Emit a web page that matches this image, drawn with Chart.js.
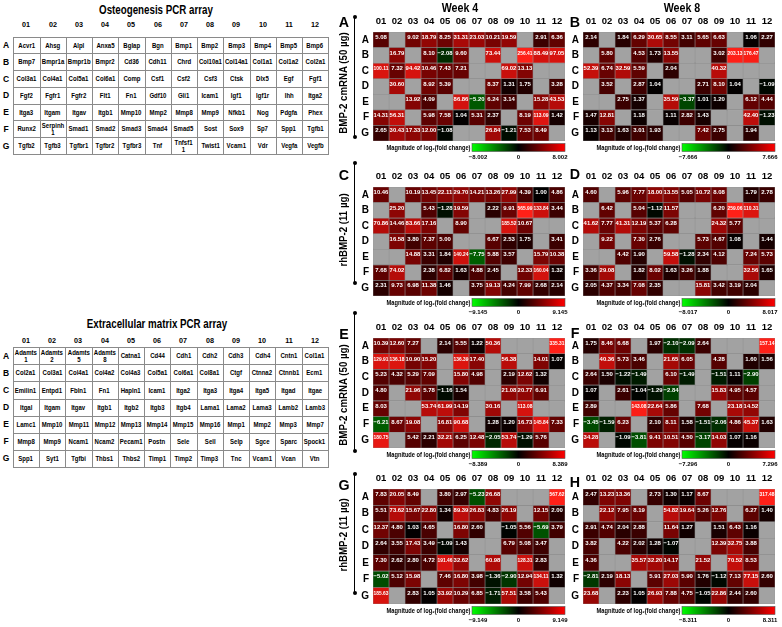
<!DOCTYPE html>
<html>
<head>
<meta charset="utf-8">
<script src="https://cdn.jsdelivr.net/npm/chart.js@4.4.0/dist/chart.umd.min.js"></script>
<style>
body{margin:0;background:#fff;}
#fig{position:relative;width:782px;height:627px;overflow:hidden;background:#fff;color:#000;
  font-family:"Liberation Sans",Arial,sans-serif;}
#fig div,#fig canvas{position:absolute;}
.c{white-space:nowrap;font-weight:bold;line-height:1;}
.tbl{border-left:1px solid #8a8a8a;border-top:1px solid #8a8a8a;box-sizing:border-box;}
.cell{box-sizing:border-box;border-right:1px solid #8a8a8a;border-bottom:1px solid #8a8a8a;
  display:flex;align-items:center;justify-content:center;text-align:center;}
.cell span{display:inline-block;font-size:7px;font-weight:bold;line-height:7px;transform:scaleX(.86);white-space:nowrap;}
</style>
</head>
<body>
<div id="fig"></div>
<script>
const cols = ['01','02','03','04','05','06','07','08','09','10','11','12'];
const rows = ['A','B','C','D','E','F','G'];
const weeks = ['Week 4', 'Week 8'];
const treatments = ['BMP-2 cmRNA (50 \u00b5g)', 'rhBMP-2 (11 \u00b5g)'];

const osteoGenes = [
  ['Acvr1','Ahsg','Alpl','Anxa5','Bglap','Bgn','Bmp1','Bmp2','Bmp3','Bmp4','Bmp5','Bmp6'],
  ['Bmp7','Bmpr1a','Bmpr1b','Bmpr2','Cd36','Cdh11','Chrd','Col10a1','Col14a1','Col1a1','Col1a2','Col2a1'],
  ['Col3a1','Col4a1','Col5a1','Col6a1','Comp','Csf1','Csf2','Csf3','Ctsk','Dlx5','Egf','Fgf1'],
  ['Fgf2','Fgfr1','Fgfr2','Flt1','Fn1','Gdf10','Gli1','Icam1','Igf1','Igf1r','Ihh','Itga2'],
  ['Itga3','Itgam','Itgav','Itgb1','Mmp10','Mmp2','Mmp8','Mmp9','Nfkb1','Nog','Pdgfa','Phex'],
  ['Runx2','Serpinh\n1','Smad1','Smad2','Smad3','Smad4','Smad5','Sost','Sox9','Sp7','Spp1','Tgfb1'],
  ['Tgfb2','Tgfb3','Tgfbr1','Tgfbr2','Tgfbr3','Tnf','Tnfsf1\n1','Twist1','Vcam1','Vdr','Vegfa','Vegfb']
];
const ecmGenes = [
  ['Adamts\n1','Adamts\n2','Adamts\n5','Adamts\n8','Catna1','Cd44','Cdh1','Cdh2','Cdh3','Cdh4','Cntn1','Col1a1'],
  ['Col2a1','Col3a1','Col4a1','Col4a2','Col4a3','Col5a1','Col6a1','Col8a1','Ctgf','Ctnna2','Ctnnb1','Ecm1'],
  ['Emilin1','Entpd1','Fbln1','Fn1','Hapln1','Icam1','Itga2','Itga3','Itga4','Itga5','Itgad','Itgae'],
  ['Itgal','Itgam','Itgav','Itgb1','Itgb2','Itgb3','Itgb4','Lama1','Lama2','Lama3','Lamb2','Lamb3'],
  ['Lamc1','Mmp10','Mmp11','Mmp12','Mmp13','Mmp14','Mmp15','Mmp16','Mmp1','Mmp2','Mmp3','Mmp7'],
  ['Mmp8','Mmp9','Ncam1','Ncam2','Pecam1','Postn','Sele','Sell','Selp','Sgce','Sparc','Spock1'],
  ['Spp1','Syt1','Tgfbi','Thbs1','Thbs2','Timp1','Timp2','Timp3','Tnc','Vcam1','Vcan','Vtn']
];

// fold changes, null = not measured (grey)
const w4CmOsteo = [
  [5.08,null,9.02,18.79,8.25,31.31,23.03,10.21,19.59,null,2.91,6.36],
  [null,16.79,null,8.10,-2.08,9.60,null,73.44,null,256.41,88.49,97.05],
  [100.11,7.32,94.42,10.46,7.43,7.21,null,null,69.02,13.13,null,null],
  [null,30.60,null,8.92,5.39,null,null,8.37,1.31,1.75,null,3.28],
  [null,null,13.92,4.09,null,86.86,-5.20,6.24,3.14,null,15.28,43.53],
  [14.31,56.31,null,5.98,7.58,1.04,5.31,2.37,null,8.19,113.09,1.42],
  [2.65,30.43,17.33,12.00,-1.08,null,null,26.84,-1.21,7.53,8.49,null]
];
const w8CmOsteo = [
  [2.14,null,1.84,6.29,30.65,8.55,3.11,5.65,6.63,null,1.06,2.27],
  [null,5.80,null,4.53,1.73,13.55,null,null,3.02,203.13,176.47,null],
  [52.39,6.74,32.59,5.59,null,2.04,null,null,40.32,null,null,null],
  [null,3.52,null,2.87,1.04,null,null,2.71,8.10,1.04,null,-1.09],
  [null,null,2.75,1.37,null,35.59,-3.37,1.01,1.20,null,6.12,4.44],
  [1.47,12.81,null,1.18,null,1.11,2.82,1.43,null,null,42.40,-1.23],
  [1.13,3.13,1.63,3.01,1.93,null,null,7.42,2.75,null,1.94,null]
];
const w4RhOsteo = [
  [10.46,null,10.19,13.45,22.11,29.70,14.21,13.26,27.99,4.39,1.00,4.86],
  [null,25.20,null,5.43,-1.28,19.59,null,2.22,9.91,565.99,133.84,3.44],
  [70.86,14.46,83.66,17.16,null,8.90,null,null,185.52,10.67,null,null],
  [null,16.58,3.80,7.37,5.00,null,null,6.67,2.53,1.75,null,3.41],
  [null,null,14.88,3.31,1.84,140.24,-7.75,5.88,3.57,null,15.79,10.38],
  [7.68,74.02,null,2.38,6.82,1.63,4.88,2.45,null,12.33,160.04,1.32],
  [2.31,9.73,6.98,11.38,1.46,null,3.75,19.13,4.24,7.99,2.68,2.14]
];
const w8RhOsteo = [
  [4.60,null,5.96,7.77,18.00,13.55,5.05,10.72,8.08,null,1.79,2.78],
  [null,6.42,null,5.04,-1.12,11.57,null,null,6.20,259.06,110.31,null],
  [41.62,7.77,41.31,12.19,5.37,6.28,null,null,24.32,5.77,null,null],
  [null,9.22,null,7.30,2.76,null,null,5.73,4.67,1.08,null,1.44],
  [null,null,4.42,1.90,null,59.58,-1.28,2.34,4.12,null,7.24,5.73],
  [3.36,29.08,null,1.82,8.02,1.63,3.26,1.88,null,null,32.56,1.65],
  [2.05,4.37,3.34,7.08,2.35,null,null,15.81,3.42,3.19,2.04,null]
];
const w4CmEcm = [
  [10.39,12.60,7.27,null,2.14,5.55,1.22,50.36,null,null,null,335.31],
  [129.91,136.18,10.90,15.20,null,136.39,17.40,null,56.38,null,14.01,1.07],
  [5.23,4.32,5.29,7.09,null,15.80,4.98,null,2.19,12.62,1.32,null],
  [4.80,null,21.96,5.78,-1.16,1.54,null,null,21.08,20.77,6.91,null],
  [8.03,null,null,53.74,61.99,14.19,null,30.16,null,113.08,null,null],
  [-6.21,8.67,19.08,null,16.81,90.68,null,1.28,1.20,16.73,145.84,7.33],
  [180.75,null,5.42,2.21,32.21,6.25,12.48,-2.05,53.74,-1.29,5.76,null]
];
const w8CmEcm = [
  [1.75,8.46,6.68,null,1.97,-2.10,-2.09,2.64,null,null,null,157.14],
  [null,40.36,5.73,3.46,null,21.65,6.05,null,4.28,null,1.60,1.56],
  [2.64,1.50,-1.22,-1.49,null,6.10,-1.49,null,-1.51,1.11,-2.90,null],
  [1.07,null,2.61,-1.04,-1.29,-2.84,null,null,15.83,4.95,4.57,null],
  [2.89,null,null,143.08,22.64,5.86,null,7.68,null,23.18,14.52,null],
  [-3.45,-1.59,6.23,null,2.10,8.11,1.58,-1.51,-2.06,4.86,45.37,1.63],
  [34.28,null,-1.09,-3.81,9.41,10.51,4.50,-3.17,14.03,1.07,1.16,null]
];
const w4RhEcm = [
  [7.83,20.05,8.49,null,3.80,2.97,-5.23,26.68,null,null,null,567.62],
  [5.51,73.62,15.67,22.80,1.34,89.39,26.83,4.83,26.19,null,12.15,2.00],
  [12.37,4.80,1.03,4.65,null,16.80,2.60,null,-1.05,5.56,-5.69,3.79],
  [2.64,3.55,17.43,3.49,-1.09,1.43,null,null,6.79,5.08,3.47,null],
  [7.30,2.62,2.80,4.72,191.46,32.62,null,60.98,null,128.31,2.83,null],
  [-5.02,5.12,15.98,null,7.46,16.80,3.98,-1.36,-2.90,12.94,134.11,1.32],
  [185.63,null,2.83,1.05,33.92,10.29,6.85,-1.71,57.51,3.58,5.43,null]
];
const w8RhEcm = [
  [2.47,13.23,13.36,null,2.73,1.30,1.17,8.67,null,null,null,317.48],
  [null,22.12,7.95,8.19,null,54.82,19.64,5.26,12.76,null,6.27,1.40],
  [2.91,4.74,2.04,2.88,null,11.64,1.27,null,1.51,6.43,1.16,null],
  [3.82,null,4.22,2.02,1.28,-1.07,null,null,12.39,32.75,3.88,null],
  [4.36,null,null,35.57,32.20,14.17,null,21.52,null,70.52,8.53,null],
  [-2.81,2.19,18.13,null,5.91,27.03,5.90,1.76,-1.12,7.13,77.15,2.60],
  [23.68,null,2.23,1.05,26.93,7.88,4.75,-1.05,22.86,2.44,2.60,null]
];
// colour bar limits, log2 scale
const cbMax = [8.002, 7.666, 9.145, 8.017, 8.389, 7.296, 9.149, 8.311];

const fig = document.getElementById('fig');
const FONT = '"Liberation Sans", Arial, sans-serif';

function txt(str, x, y, size, extra) {
  const d = document.createElement('div');
  d.className = 'c';
  d.style.left = x + 'px';
  d.style.top = y + 'px';
  d.style.fontSize = size + 'px';
  d.style.transform = 'translate(-50%,-50%) ' + (extra || '');
  d.textContent = str;
  fig.appendChild(d);
  return d;
}

function drawTable(genes, title, x, y, w, h, titleX, titleY, headY) {
  const cw = w / cols.length, rh = h / rows.length;
  txt(title, titleX, titleY, 13, 'scaleX(.75)');
  cols.forEach((c, i) => txt(c, x + cw * (i + 0.5), headY, 8, 'scaleX(.9)'));
  rows.forEach((r, i) => txt(r, 6, y + rh * (i + 0.5), 8.5));
  const box = document.createElement('div');
  box.className = 'tbl';
  Object.assign(box.style, {left: x + 'px', top: y + 'px', width: w + 'px', height: h + 'px'});
  genes.forEach((row, ri) => row.forEach((g, ci) => {
    const c = document.createElement('div');
    c.className = 'cell';
    Object.assign(c.style, {left: (ci * cw - 1) + 'px', top: (ri * rh - 1) + 'px',
      width: (cw + 1) + 'px', height: (rh + 1) + 'px'});
    const s = document.createElement('span');
    s.innerHTML = g.replace('\n', '<br>');
    c.appendChild(s);
    box.appendChild(c);
  }));
  fig.appendChild(box);
}

drawTable(osteoGenes, 'Osteogenesis PCR array', 13.3, 36.7, 315, 117.3, 156, 8.5, 25);
drawTable(ecmGenes, 'Extracellular matrix PCR array', 12.7, 347.3, 315.3, 119.7, 157, 322.5, 341);

function heatColor(v, max) {
  if (v === null) return '#a2a2a2';
  const l = v > 0 ? Math.log2(v) : -Math.log2(-v);
  const t = Math.pow(Math.min(1, Math.abs(l) / max), 0.88);
  if (l >= 0) return 'rgb(' + Math.round(255 * t) + ',' + Math.round(32 * t * t * t) + ',' + Math.round(24 * t * t * t) + ')';
  return 'rgb(0,' + Math.round(255 * t) + ',0)';
}

function fmt(v) {
  return v < 0 ? '\u2212' + (-v).toFixed(2) : v.toFixed(2);
}

function cellPlugin(vals, max) {
  return {
    id: 'cells',
    afterDatasetsDraw(chart) {
      const {ctx, chartArea: a, scales: {x, y}} = chart;
      const cw = x.getPixelForValue(1) - x.getPixelForValue(0);
      const ch = (a.bottom - a.top) / rows.length;
      ctx.save();
      ctx.fillStyle = '#fff';
      ctx.font = 'bold 6px ' + FONT;
      ctx.textAlign = 'center';
      ctx.textBaseline = 'top';
      vals.forEach((row, ri) => row.forEach((v, ci) => {
        if (v === null) return;
        ctx.fillText(fmt(v), x.getPixelForValue(ci + 0.5), y.getPixelForValue(ri) - ch / 2 + 2.3, cw - 1.2);
      }));
      ctx.restore();
    },
    afterDraw(chart) {
      const {ctx, chartArea: a} = chart;
      const r = a.right, l = a.right - 93, t = a.bottom + 2.5, h = 8;
      ctx.save();
      const g = ctx.createLinearGradient(l, 0, r, 0);
      g.addColorStop(0, 'rgb(0,255,0)');
      g.addColorStop(0.5, '#000');
      g.addColorStop(1, 'rgb(255,0,0)');
      ctx.fillStyle = g;
      ctx.fillRect(l, t, r - l, h);
      ctx.strokeStyle = '#555';
      ctx.lineWidth = 0.6;
      ctx.strokeRect(l, t, r - l, h);
      ctx.fillStyle = '#000';
      ctx.font = 'bold 7px ' + FONT;
      ctx.textAlign = 'right';
      ctx.textBaseline = 'middle';
      ctx.fillText('Magnitude of log\u2082(fold change)', l - 1.5, t + h / 2 + 0.5, 84);
      ctx.font = 'bold 6px ' + FONT;
      ctx.textAlign = 'center';
      ctx.textBaseline = 'top';
      ctx.fillText('\u2212' + max.toFixed(3), l + 6, t + h + 3);
      ctx.fillText('0', (l + r) / 2, t + h + 3);
      ctx.fillText(max.toFixed(3), r - 5, t + h + 3);
      ctx.restore();
    }
  };
}

function drawHeatmap(vals, max, left, top, cellH) {
  const cv = document.createElement('canvas');
  cv.width = 213;
  cv.height = 18 + cellH + 32;
  cv.style.left = left + 'px';
  cv.style.top = top + 'px';
  fig.appendChild(cv);
  const datasets = cols.map((c, ci) => ({
    label: c,
    data: rows.map(() => 1),
    backgroundColor: rows.map((r, ri) => heatColor(vals[ri][ci], max)),
    borderColor: 'rgba(128,128,128,0.85)',
    borderWidth: 0.6,
    borderSkipped: false,
    barPercentage: 1,
    categoryPercentage: 1
  }));
  new Chart(cv, {
    type: 'bar',
    data: {labels: rows, datasets: datasets},
    options: {
      indexAxis: 'y',
      responsive: false,
      animation: false,
      devicePixelRatio: 1,
      layout: {padding: {left: 0, top: 0, right: 3, bottom: 32}},
      plugins: {legend: {display: false}, tooltip: {enabled: false}},
      scales: {
        x: {
          type: 'linear', position: 'top', stacked: true, min: 0, max: 12,
          grid: {display: false, drawTicks: false}, border: {display: false},
          afterBuildTicks: s => { s.ticks = cols.map((c, i) => ({value: i + 0.5})); },
          afterFit: s => { s.height = 18; },
          ticks: {autoSkip: false, maxRotation: 0, padding: 5, color: '#000',
            font: {family: FONT, size: 9.5, weight: 'bold'},
            callback: (v, i) => cols[i]}
        },
        y: {
          stacked: true,
          grid: {display: false, drawTicks: false}, border: {display: false},
          afterFit: s => { s.width = 18; },
          ticks: {padding: 4, color: '#000', font: {family: FONT, size: 10, weight: 'bold'}}
        }
      }
    },
    plugins: [cellPlugin(vals, max)]
  });
}

// layout: [values, left, top, cell height]
const panelSets = [
  [w4CmOsteo, 355, 14, 109], [w8CmOsteo, 565, 14, 109],
  [w4RhOsteo, 355, 169, 109], [w8RhOsteo, 565, 169, 109],
  [w4CmEcm, 355, 320, 110], [w8CmEcm, 565, 320, 110],
  [w4RhEcm, 355, 471, 115], [w8RhEcm, 565, 471, 115]
];
panelSets.forEach((p, i) => drawHeatmap(p[0], cbMax[i], p[1], p[2], p[3]));

txt(weeks[0], 460, 7, 13, 'scaleX(.82)');
txt(weeks[1], 682, 7, 13, 'scaleX(.82)');

const letters = [['A',344,21],['B',575,21],['C',344,174],['D',575,173],
                 ['E',344,333],['F',575,332],['G',344,484],['H',575,481]];
letters.forEach(l => txt(l[0], l[1], l[2], 15, 'scaleX(.95)'));

// side brackets with treatment labels: [label idx, top, bottom, label centre]
const brackets = [[0, 17, 137, 83], [1, 163, 283, 230], [0, 313, 451, 395], [1, 474, 593, 535]];
brackets.forEach(b => {
  const line = document.createElement('div');
  Object.assign(line.style, {left: '354px', top: b[1] + 'px', width: '1.2px', height: (b[2] - b[1]) + 'px', background: '#000'});
  fig.appendChild(line);
  [b[1], b[2]].forEach(yy => {
    const dot = document.createElement('div');
    Object.assign(dot.style, {left: '352.5px', top: (yy - 2) + 'px', width: '4px', height: '4px', borderRadius: '50%', background: '#000'});
    fig.appendChild(dot);
  });
  txt(treatments[b[0]], 343, b[3], 10.5, 'rotate(-90deg) scaleX(.92)');
});
</script>
</body>
</html>
